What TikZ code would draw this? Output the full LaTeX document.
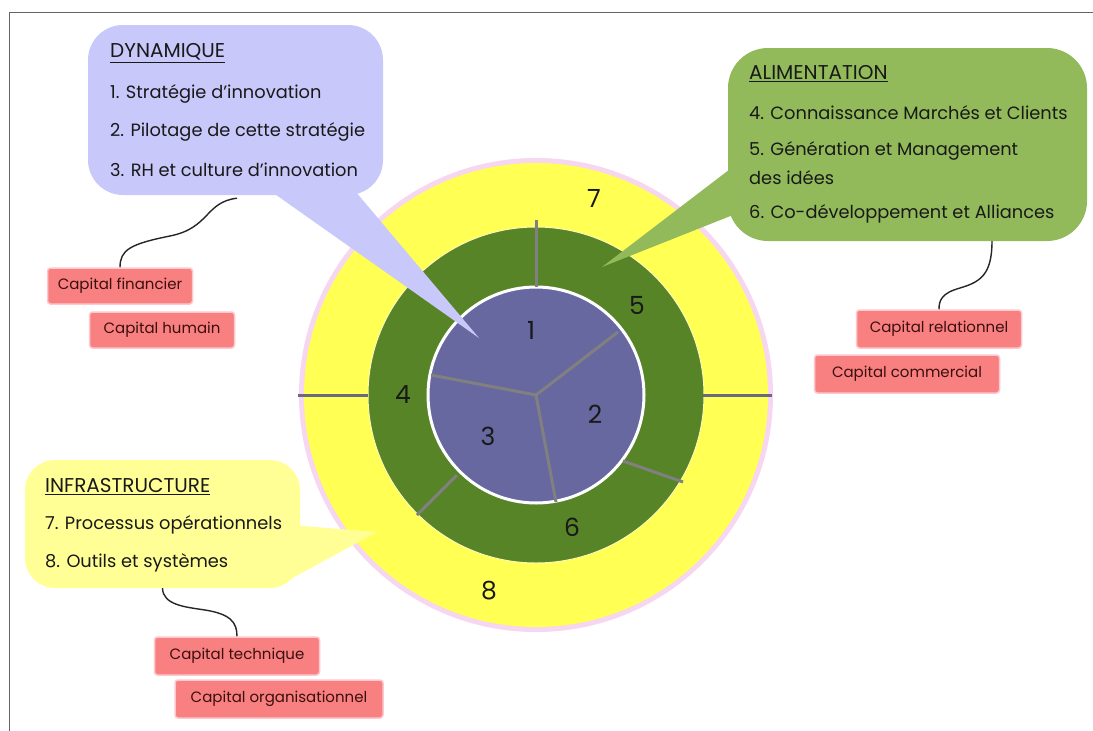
\documentclass[tikz,border=0pt]{standalone}
\usepackage{fontspec}
\setmainfont{Poppins}
\usetikzlibrary{calc}
\definecolor{pinkring}{RGB}{246,214,240}
\definecolor{yel}{RGB}{255,255,84}
\definecolor{dgreen}{RGB}{88,132,40}
\definecolor{purp}{RGB}{104,104,160}
\definecolor{lav}{RGB}{200,200,250}
\definecolor{lgreen}{RGB}{146,186,90}
\definecolor{lyel}{RGB}{255,255,150}
\definecolor{pinkbox}{RGB}{248,128,128}
\definecolor{pinkhalo}{RGB}{252,200,205}
\definecolor{spokec}{RGB}{128,128,128}
\definecolor{hline}{RGB}{105,105,130}
\definecolor{frame}{RGB}{100,100,100}
\definecolor{pinktext}{RGB}{60,15,15}
\tikzset{
  callout/.style={rectangle, inner sep=0pt},
  line/.style={anchor=west, inner sep=0pt, font=\fontsize{17.8}{20}\selectfont, text=black!90},
  head/.style={anchor=west, inner sep=0pt, font=\fontsize{20}{22}\selectfont, text=black!90},
  capbox/.style={rectangle, rounded corners=3pt, fill=pinkbox, draw=pinkhalo, line width=1.5pt,
    text=pinktext, font=\fontsize{15}{17}\selectfont},
  spoke/.style={draw=spokec, line width=3pt},
  num/.style={font=\fontsize{25}{27}\selectfont, text=black!90, inner sep=0pt},
  squig/.style={draw=black!85, line width=1.4pt},
}
\begin{document}
\begin{tikzpicture}[x=1pt,y=-1pt]
\useasboundingbox (0,0) rectangle (1093,731);
\fill[white] (0,0) rectangle (1093,731);
\draw[frame, line width=1.3pt] (9.5,731) -- (9.5,12.5) -- (1093,12.5);

% circles
\coordinate (c) at (536,395);
\fill[pinkring] (c) circle (237);
\fill[yel] (c) circle (232);
\draw[fill=dgreen, draw=yellow!30, line width=1pt] (c) circle (168);
\draw[fill=purp, draw=white, line width=3pt] (c) circle (108);

% spokes
\draw[spoke] (c) -- (618,332);
\draw[spoke] (c) -- (431,375);
\draw[spoke] (c) -- (556,502);
\draw[spoke] (536,287) -- (536,220);
\draw[spoke] (623,461) -- (683,482);
\draw[spoke] (457,475) -- (417,515);
\draw[draw=hline, line width=3pt] (298,395) -- (368,395);
\draw[draw=hline, line width=3pt] (703,395) -- (772,395);

% numbers
\node[num] (n7) at (594,198) {7};
\node[num] (n5) at (637,305) {5};
\node[num] (n1) at (531,330) {1};
\node[num] (n4) at (403,395) {4};
\node[num] (n2) at (595,414) {2};
\node[num] (n3) at (488,436) {3};
\node[num] (n6) at (572,527) {6};
\node[num] (n8) at (489,591) {8};

% callouts
\node[callout, fill=lav, rounded corners=35pt, minimum width=295pt, minimum height=170pt] (dyn) at (235.5,110) {};
\fill[lav] (262,185) -- (350,185) -- (479,338) -- cycle;
\node[callout, fill=lgreen, rounded corners=40pt, minimum width=359pt, minimum height=193pt] (ali) at (907.5,144.5) {};
\fill[lgreen] (738,163) -- (738,213) -- (602,267) -- cycle;
\node[callout, fill=lyel, rounded corners=30pt, minimum width=275pt, minimum height=128pt] (inf) at (162.5,524) {};
\fill[lyel] (290,525) -- (377,532) -- (285,582) -- cycle;

% texts
\node[head] (d0) at (110,53) {\underline{DYNAMIQUE}};
\node[line] (d1) at (110,94) {1. Stratégie d’innovation};
\node[line] (d2) at (110,132) {2. Pilotage de cette stratégie};
\node[line] (d3) at (110,170) {3. RH et culture d’innovation};

\node[head] (a0) at (749,74) {\underline{ALIMENTATION}};
\node[line] (a1) at (749,113) {4. Connaissance Marchés et Clients};
\node[line] (a2) at (749,151) {5. Génération et Management};
\node[line] (a3) at (749,178) {des idées};
\node[line] (a4) at (749,214) {6. Co-développement et Alliances};

\node[head] (i0) at (45,487) {\underline{INFRASTRUCTURE}};
\node[line] (i1) at (45,525) {7. Processus opérationnels};
\node[line] (i2) at (45,563) {8. Outils et systèmes};

% capital boxes
\node[capbox, minimum width=145pt, minimum height=36pt] (fin) at (120,286) {Capital financier};
\node[capbox, minimum width=145pt, minimum height=36pt] (hum) at (162,330) {Capital humain};
\node[capbox, minimum width=165pt, minimum height=38pt] (rel) at (939,329) {Capital relationnel};
\node[capbox, minimum width=185pt, minimum height=38pt] (com) at (907,374) {Capital commercial};
\node[capbox, minimum width=165pt, minimum height=38pt] (tec) at (237,656) {Capital technique};
\node[capbox, minimum width=208pt, minimum height=38pt] (org) at (279,699) {Capital organisationnel};

% squiggles
\draw[squig] ([xshift=1.5pt,yshift=-3pt]dyn.south) .. controls (205,202) and (210,228) .. (170,236) .. controls (130,244) and (120,250) .. (fin.north);
\draw[squig] ([xshift=84.5pt]ali.south) .. controls (992,275) and (980,282) .. (960,288) .. controls (942,293) and (939,300) .. (rel.north);
\draw[squig] (inf.south) .. controls (163,605) and (185,607) .. (205,610) .. controls (230,614) and (237,622) .. (tec.north);
\end{tikzpicture}
\end{document}
